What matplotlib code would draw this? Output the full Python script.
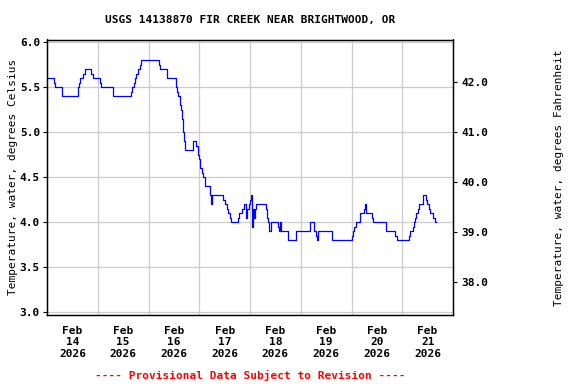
import matplotlib
matplotlib.use("Agg")
import matplotlib.pyplot as plt
import matplotlib.dates as mdates
import pandas as pd

# step breakpoints: hours since Feb 14 00:00, water temp (C)
hours = [
    0.0, 3.1, 3.7, 7.3, 14.6, 15.2, 15.8, 17.1, 17.9, 21.0, 21.7, 25.1, 25.7,
    31.3, 39.8, 40.4, 41.0, 41.5, 42.1, 42.8, 43.9, 44.5, 52.8, 53.3, 56.8,
    60.9, 61.5, 62.1, 62.7, 63.4, 63.7, 64.2, 64.8, 65.4, 68.9, 70.4, 71.2,
    71.8, 72.3, 73.3, 73.8, 74.6, 76.9, 77.4, 78.0, 83.4, 84.3, 85.3, 85.8,
    86.4, 86.9, 90.1, 90.8, 92.4, 93.2, 94.1, 94.7, 95.3, 95.8, 96.5, 97.0,
    97.4, 97.9, 98.4, 99.0, 103.4, 104.0, 104.6, 105.1, 105.7, 109.2, 109.7,
    110.3, 110.8, 114.2, 117.7, 124.2, 126.4, 127.2, 127.7, 128.1, 134.9,
    144.3, 144.9, 145.4, 145.9, 148.1, 149.7, 150.2, 150.8, 153.8, 154.4,
    160.1, 164.8, 165.4, 171.3, 171.9, 173.0, 173.5, 174.1, 174.7, 175.4,
    176.0, 177.7, 179.3, 179.9, 180.5, 181.1, 182.5, 183.7, 184.0,
]
temp_c = [
    5.6, 5.55, 5.5, 5.4, 5.5, 5.55, 5.6, 5.65, 5.7, 5.65, 5.6, 5.55, 5.5,
    5.4, 5.45, 5.5, 5.55, 5.6, 5.65, 5.7, 5.75, 5.8, 5.75, 5.7, 5.6,
    5.5, 5.45, 5.4, 5.3, 5.25, 5.15, 5.0, 4.9, 4.8, 4.9, 4.85, 4.75,
    4.7, 4.6, 4.55, 4.5, 4.4, 4.3, 4.2, 4.3, 4.25, 4.2, 4.15, 4.1,
    4.05, 4.0, 4.05, 4.1, 4.15, 4.2, 4.05, 4.15, 4.2, 4.25, 4.3, 3.95,
    4.15, 4.05, 4.15, 4.2, 4.15, 4.05, 4.0, 3.9, 4.0, 3.95, 3.9,
    4.0, 3.9, 3.8, 3.9, 4.0, 3.9, 3.85, 3.8, 3.9, 3.8,
    3.85, 3.9, 3.95, 4.0, 4.1, 4.15, 4.2, 4.1, 4.05, 4.0,
    3.9, 3.85, 3.8, 3.85, 3.9, 3.95, 4.0, 4.05, 4.1, 4.15,
    4.2, 4.3, 4.25, 4.2, 4.15, 4.1, 4.05, 4.0, 4.0,
]

start = pd.Timestamp("2026-02-14 00:00")
end = pd.Timestamp("2026-02-22 00:00")
days = pd.date_range(start, periods=8, freq="D")
f_ticks = [38.0, 39.0, 40.0, 41.0, 42.0]
c_lim = (2.97, 6.031)

times = [start + pd.Timedelta(hours=h) for h in hours]

mono = "DejaVu Sans Mono"
plt.rcParams["font.family"] = mono
plt.rcParams["font.weight"] = "bold"
plt.rcParams["font.size"] = 8

fig = plt.figure(figsize=(5.76, 3.84), dpi=100)
ax = fig.add_axes([47 / 576, 1 - 315 / 384, 406 / 576, 275.5 / 384])

ax.step(times, temp_c, where="post", color="#0000ff", lw=0.9)

ax.set_xlim(start, end)
ax.set_ylim(*c_lim)
ax.set_yticks([3.0, 3.5, 4.0, 4.5, 5.0, 5.5, 6.0])
ax.yaxis.set_major_formatter(matplotlib.ticker.FormatStrFormatter("%.1f"))

ax.set_xticks(list(days[1:]))
ax.set_xticks([d + pd.Timedelta(hours=12) for d in days], minor=True)
ax.xaxis.set_major_formatter(matplotlib.ticker.NullFormatter())
ax.xaxis.set_minor_formatter(mdates.DateFormatter("%b\n%d\n%Y"))
ax.tick_params(axis="x", which="both", length=0, pad=8)
for lbl in ax.xaxis.get_minorticklabels():
    lbl.set_linespacing(1.15)
ax.tick_params(axis="y", direction="out", length=3, pad=2)

ax.grid(True, which="major", color="#cccccc", lw=0.9)
ax.set_axisbelow(True)
for sp in ax.spines.values():
    sp.set_linewidth(1.0)
    sp.set_color("black")

ax.set_ylabel("Temperature, water, degrees Celsius", labelpad=1)

ax2 = ax.twinx()
ax2.set_ylim(c_lim[0] * 9 / 5 + 32, c_lim[1] * 9 / 5 + 32)
ax2.set_yticks(f_ticks)
ax2.yaxis.set_major_formatter(matplotlib.ticker.FormatStrFormatter("%.1f"))
ax2.tick_params(axis="y", direction="out", length=3, pad=3)
ax2.set_ylabel("Temperature, water, degrees Fahrenheit", labelpad=47)

fig.text(250 / 576, 1 - 20 / 384, "USGS 14138870 FIR CREEK NEAR BRIGHTWOOD, OR",
         ha="center", va="center", fontsize=8, fontweight="bold")
fig.text(250 / 576, 1 - 375 / 384, "---- Provisional Data Subject to Revision ----",
         ha="center", va="center", fontsize=8, fontweight="bold", color="red")

fig.savefig("out.png", dpi=100)
